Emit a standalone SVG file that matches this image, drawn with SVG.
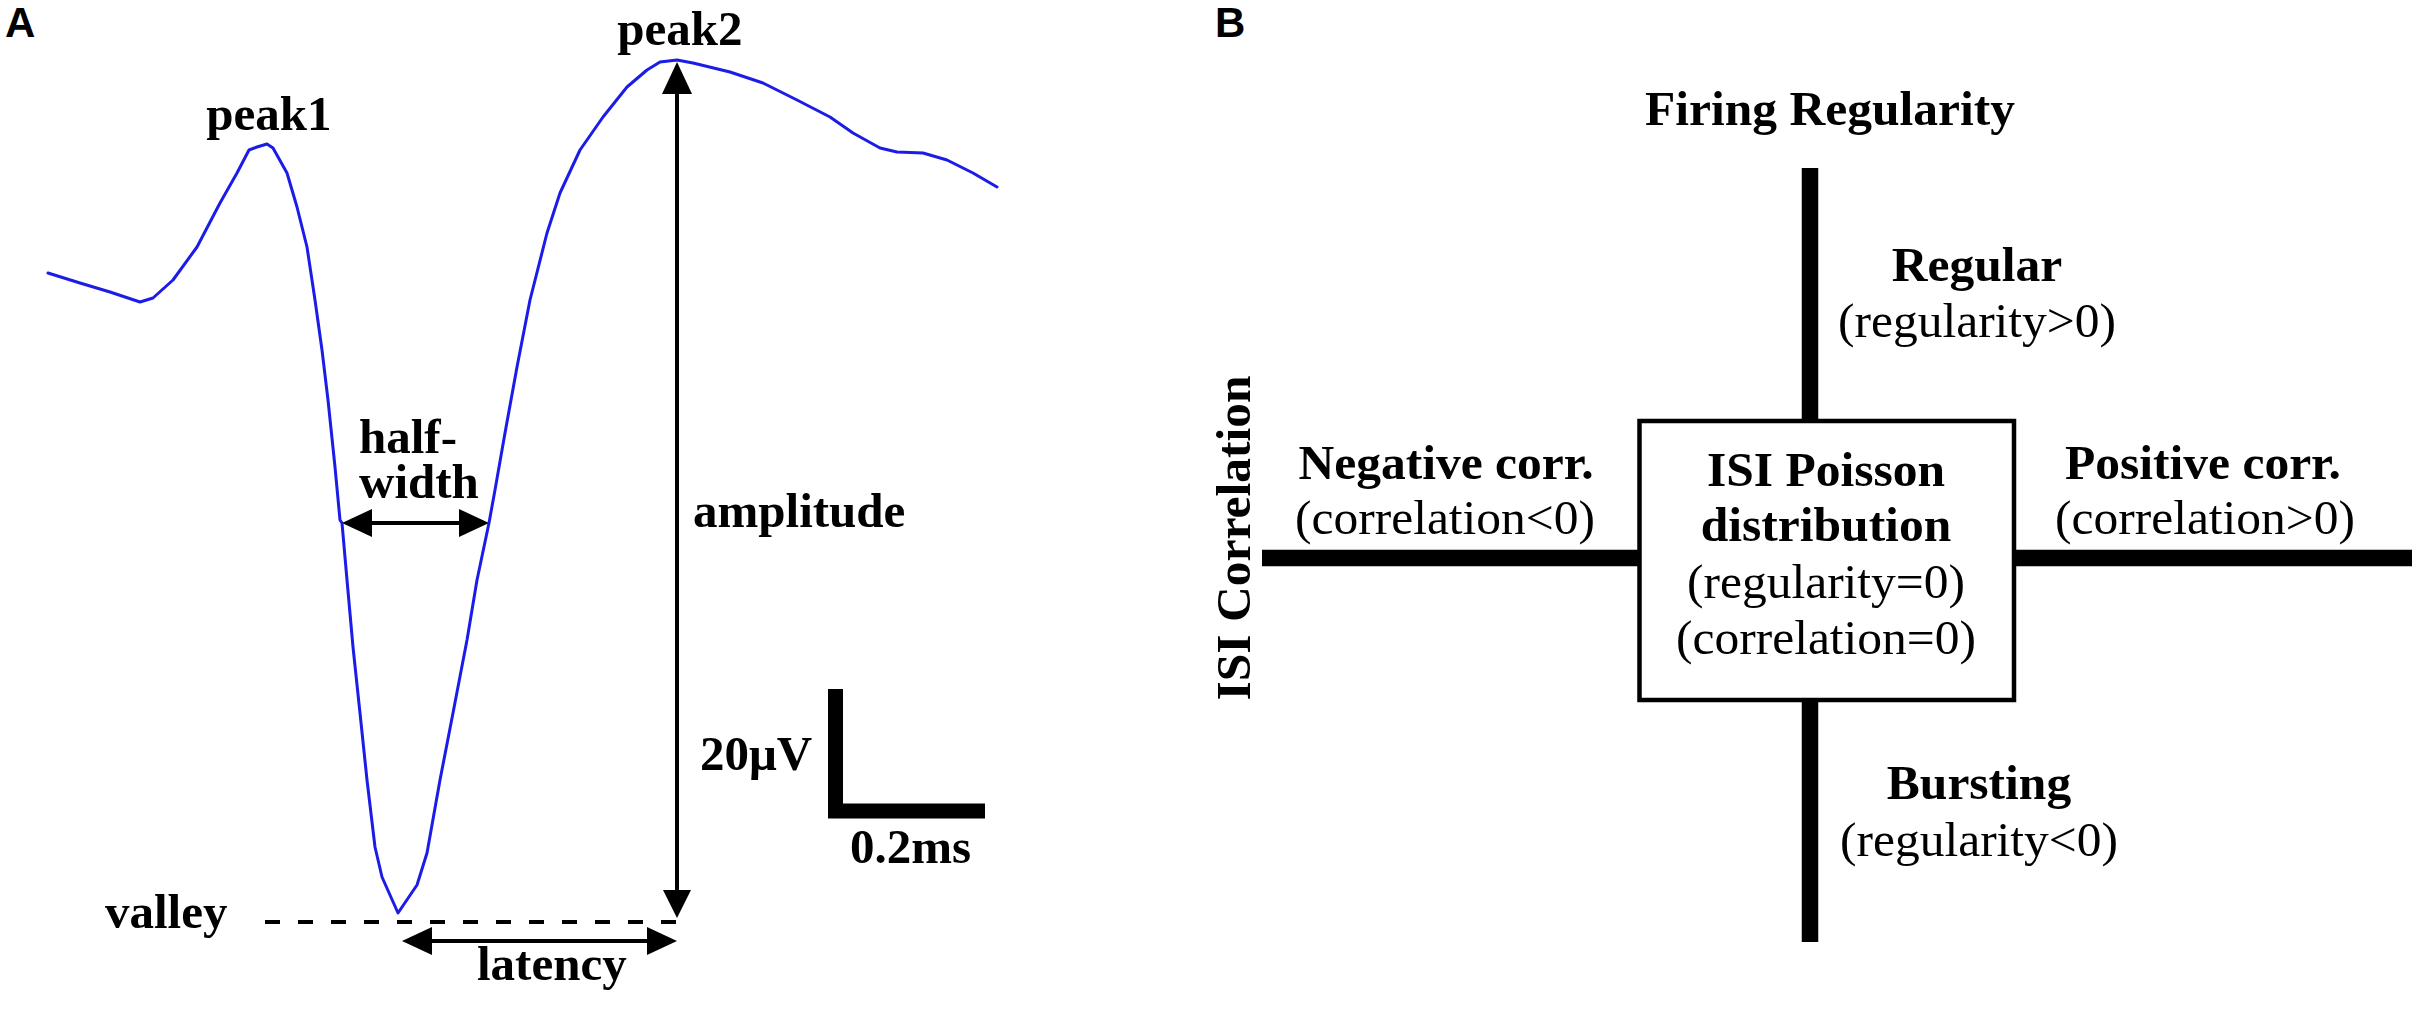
<svg xmlns="http://www.w3.org/2000/svg" width="2412" height="1022" viewBox="0 0 2412 1022">
  <style>
    .panel { font-family: "Liberation Sans", Arial, sans-serif; font-weight: bold; font-size: 42px; fill: #000; }
    .lbl { font-family: "Liberation Serif", "Times New Roman", serif; font-weight: bold; font-size: 49px; fill: #000; }
    .lblB { font-family: "Liberation Serif", "Times New Roman", serif; font-weight: bold; font-size: 49.5px; fill: #000; }
    .sub { font-family: "Liberation Serif", "Times New Roman", serif; font-weight: normal; font-size: 49.5px; fill: #000; }
    .mid { text-anchor: middle; }
    .trace { fill: none; stroke: #1c1ce8; stroke-width: 3; stroke-linejoin: round; stroke-linecap: round; }
    .thin { stroke: #000; stroke-width: 4; fill: none; }
    .head { fill: #000; stroke: none; }
    .axis { stroke: #000; stroke-width: 16.5; fill: none; }
    .box { fill: #fff; stroke: #000; stroke-width: 4.5; }
  </style>
  <rect x="0" y="0" width="2412" height="1022" fill="#fff"/>

  <!-- Panel A -->
  <g id="panelA">
    <text class="panel" x="5" y="37">A</text>
    <g id="waveform">
      <polyline class="trace" points="48,273 80,283 110,292 140,302 153,298 173,280 197,247 220,203 237,173 249,150 257,147 267,144 273,148 287,173 297,207 307,247 315,300 322,350 328,400 335,467 340,520 342,523 347,580 353,647 360,713 367,780 375,847 382,877 398,913 417,885 427,853 440,780 453,713 467,640 477,580 489,523 495,490 505,433 517,367 530,300 547,233 560,193 580,150 603,117 627,87 647,70 660,62 677,60 693,63 730,72 763,83 797,100 830,117 853,133 880,148 897,152 923,153 947,160 973,173 997,187"/>
    </g>
    <g id="label-peak1"><text class="lbl mid" x="269" y="130">peak1</text></g>
    <g id="label-peak2"><text class="lbl mid" x="680" y="45">peak2</text></g>
    <g id="label-halfwidth">
      <text class="lbl" x="359" y="453">half-</text>
      <text class="lbl" x="359" y="498">width</text>
    </g>
    <g id="label-amplitude"><text class="lbl" x="693" y="527">amplitude</text></g>
    <g id="label-valley"><text class="lbl" x="105" y="928">valley</text></g>
    <g id="label-latency"><text class="lbl" x="477" y="980">latency</text></g>
    <g id="scalebar">
      <path d="M835.5,689 L835.5,811 L985,811" stroke="#000" stroke-width="15" fill="none" stroke-linejoin="miter"/>
      <text class="lbl" x="700" y="770">20μV</text>
      <text class="lbl" x="850" y="863">0.2ms</text>
    </g>
    <g id="measures">
      <line x1="265" y1="922" x2="677" y2="922" stroke="#000" stroke-width="4" stroke-dasharray="15 18"/>
      <line class="thin" x1="362" y1="523" x2="470" y2="523"/>
      <polygon class="head" points="342,523 372,509 372,537"/>
      <polygon class="head" points="489,523 459,509 459,537"/>
      <line class="thin" x1="677" y1="88" x2="677" y2="893"/>
      <polygon class="head" points="677,62 662,94 692,94"/>
      <polygon class="head" points="677,918 663,890 691,890"/>
      <line class="thin" x1="422" y1="941" x2="657" y2="941"/>
      <polygon class="head" points="402,941 432,927 432,955"/>
      <polygon class="head" points="677,941 647,927 647,955"/>
    </g>
  </g>

  <!-- Panel B -->
  <g id="panelB">
    <text class="panel" x="1215" y="37">B</text>
    <g id="connectors">
      <line class="axis" x1="1810" y1="168" x2="1810" y2="422"/>
      <line class="axis" x1="1810" y1="699" x2="1810" y2="942"/>
      <line class="axis" x1="1262" y1="558" x2="1640" y2="558"/>
      <line class="axis" x1="2013" y1="558" x2="2412" y2="558"/>
    </g>
    <g id="node-poisson">
      <rect class="box" x="1639.5" y="421" width="374.5" height="279"/>
      <text class="lblB mid" x="1826" y="486">ISI Poisson</text>
      <text class="lblB mid" x="1826" y="541">distribution</text>
      <text class="sub mid" x="1826" y="598">(regularity=0)</text>
      <text class="sub mid" x="1826" y="654">(correlation=0)</text>
    </g>
    <g id="axis-title-regularity"><text class="lblB mid" x="1830" y="125">Firing Regularity</text></g>
    <g id="axis-title-correlation"><text class="lblB mid" transform="translate(1250,538) rotate(-90)" x="0" y="0">ISI Correlation</text></g>
    <g id="node-regular">
      <text class="lblB mid" x="1977" y="281">Regular</text>
      <text class="sub mid" x="1977" y="337">(regularity&gt;0)</text>
    </g>
    <g id="node-bursting">
      <text class="lblB mid" x="1979" y="799">Bursting</text>
      <text class="sub mid" x="1979" y="856">(regularity&lt;0)</text>
    </g>
    <g id="node-negative">
      <text class="lblB mid" x="1446" y="479">Negative corr.</text>
      <text class="sub mid" x="1445" y="534">(correlation&lt;0)</text>
    </g>
    <g id="node-positive">
      <text class="lblB mid" x="2203" y="479">Positive corr.</text>
      <text class="sub mid" x="2205" y="534">(correlation&gt;0)</text>
    </g>
  </g>
</svg>
